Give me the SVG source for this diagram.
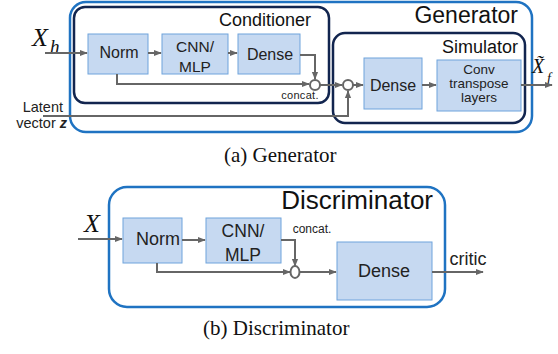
<svg xmlns="http://www.w3.org/2000/svg" width="558" height="354" viewBox="0 0 558 354">
<defs>
<marker id="ah" viewBox="0 0 10 10" refX="9" refY="5" markerWidth="4" markerHeight="4" orient="auto" markerUnits="strokeWidth">
<path d="M0,1 L10,5 L0,9 Z" fill="#666"/>
</marker>
<style>
.blk{fill:#c6d9f1;stroke:#6fa3dc;stroke-width:1}
.outer{fill:none;stroke:#1f73c2;stroke-width:2.5}
.inner{fill:none;stroke:#12254f;stroke-width:2.5}
.lbl{font-family:"Liberation Sans",Arial,sans-serif;fill:#222;text-anchor:middle}
.ttl{font-family:"Liberation Sans",Arial,sans-serif;fill:#111;text-anchor:end}
.sm{font-family:"Liberation Sans",Arial,sans-serif;fill:#222}
.cap{font-family:"Liberation Serif","Times New Roman",serif;fill:#111;font-size:21px}
.math{font-family:"Liberation Serif","Times New Roman",serif;font-style:italic;fill:#111}
.ln{fill:none;stroke:#666;stroke-width:2}
.arr{fill:none;stroke:#666;stroke-width:2;marker-end:url(#ah)}
.cc{fill:#fff;stroke:#666;stroke-width:2}
</style>
</defs>
<rect width="558" height="354" fill="#fff"/>

<g id="generator">
<rect class="outer" x="70" y="2" width="462" height="130" rx="16"/>
<text class="ttl" x="518" y="23" font-size="23">Generator</text>
</g>
<g id="conditioner">
<rect class="inner" x="74" y="7" width="255" height="96" rx="11"/>
<text class="ttl" x="311" y="26" font-size="18">Conditioner</text>
</g>
<g id="simulator">
<rect class="inner" x="333" y="33" width="192" height="90" rx="12"/>
<text class="ttl" x="518" y="53" font-size="18">Simulator</text>
</g>
<g id="g-norm">
<rect class="blk" x="88" y="34" width="60" height="40"/>
<text class="lbl" x="119" y="58" font-size="16">Norm</text>
</g>
<g id="g-cnn">
<rect class="blk" x="162" y="34" width="66" height="40"/>
<text class="lbl" x="195" y="52" font-size="15.5">CNN/</text>
<text class="lbl" x="195" y="72" font-size="15.5">MLP</text>
</g>
<g id="g-dense1">
<rect class="blk" x="238" y="34" width="62" height="40"/>
<text class="lbl" x="270" y="60" font-size="16">Dense</text>
</g>
<g id="g-dense2">
<rect class="blk" x="364" y="58" width="58" height="51"/>
<text class="lbl" x="393" y="91" font-size="16">Dense</text>
</g>
<g id="g-conv">
<rect class="blk" x="437" y="60" width="84" height="51"/>
<text class="lbl" x="479" y="74" font-size="13.5">Conv</text>
<text class="lbl" x="479" y="88" font-size="13.5">transpose</text>
<text class="lbl" x="479" y="102" font-size="13.5">layers</text>
</g>
<g id="g-labels">
<text class="math" x="32" y="46" font-size="26">X</text>
<text class="math" x="50" y="53" font-size="19">h</text>
<text class="math" x="532" y="73" font-size="20">X̃</text>
<text class="math" x="547" y="83" font-size="14">f</text>
<text class="sm" x="63" y="112" font-size="14.5" text-anchor="end">Latent</text>
<text class="sm" x="67" y="128" font-size="14.5" text-anchor="end">vector <tspan font-weight="bold" font-style="italic">z</tspan></text>
<text class="sm" x="300" y="99" font-size="11" text-anchor="middle" letter-spacing="0.3">concat.</text>
<text class="cap" x="224" y="162">(a)  Generator</text>
</g>

<g id="discriminator">
<rect class="outer" x="109" y="187" width="336" height="120" rx="18"/>
<text class="ttl" x="433" y="209" font-size="26">Discriminator</text>
</g>
<g id="d-norm">
<rect class="blk" x="123" y="218" width="59" height="45"/>
<text class="lbl" x="158" y="245" font-size="18">Norm</text>
</g>
<g id="d-cnn">
<rect class="blk" x="206" y="218" width="75" height="45"/>
<text class="lbl" x="243" y="237" font-size="17.5">CNN/</text>
<text class="lbl" x="243" y="261" font-size="17.5">MLP</text>
</g>
<g id="d-dense">
<rect class="blk" x="337" y="242" width="95" height="58"/>
<text class="lbl" x="384" y="277" font-size="18">Dense</text>
</g>
<g id="d-labels">
<text class="math" x="84" y="232" font-size="26">X</text>
<text class="sm" x="312" y="233" font-size="12" text-anchor="middle">concat.</text>
<text class="sm" x="468" y="265" font-size="18" text-anchor="middle">critic</text>
<text class="cap" x="203" y="335">(b)  Discriminator</text>
</g>

<g id="connectors">
<path class="arr" d="M45,53 H87"/>
<path class="arr" d="M148,53 H161"/>
<path class="arr" d="M228,53 H237"/>
<path class="arr" d="M300,55 H315 V79"/>
<path class="arr" d="M117,74 V84 H309"/>
<path class="arr" d="M320,85 H342"/>
<path class="arr" d="M353,85 H363"/>
<path class="arr" d="M422,85 H436"/>
<path class="arr" d="M521,85 H552"/>
<path class="arr" d="M43,116 H348 V91"/>
<circle class="cc" cx="315" cy="85" r="5"/>
<circle class="cc" cx="348" cy="85" r="5"/>

<path class="arr" d="M78,239 H122"/>
<path class="arr" d="M182,240 H205"/>
<path class="arr" d="M281,240 H295 V266"/>
<path class="arr" d="M157,263 V272 H290"/>
<path class="arr" d="M300,272 H336"/>
<path class="arr" d="M432,272 H483"/>
<ellipse class="cc" cx="295" cy="272" rx="4.5" ry="6"/>
</g>
</svg>
